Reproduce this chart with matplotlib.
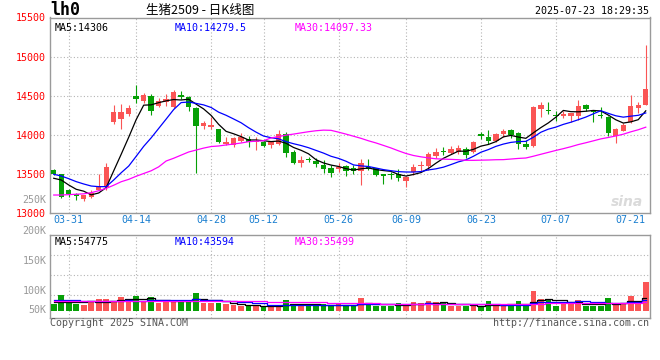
import numpy as np
import pandas as pd
import matplotlib
matplotlib.use('Agg')
import matplotlib.pyplot as plt

# 交易日 (2025-03-27 ~ 2025-07-23)
holidays = ['2025-04-04', '2025-05-01', '2025-05-02', '2025-05-05', '2025-06-02']
days = [d for d in pd.bdate_range('2025-03-27', '2025-07-23') if d.strftime('%Y-%m-%d') not in holidays]

# 日K数据
opens = [13550, 13500, 13290, 13240, 13180, 13210, 13295, 13330, 14170, 14200,
         14270, 14490, 14435, 14495, 14370, 14415, 14360, 14510, 14480, 14345,
         14115, 14105, 14075, 13885, 13870, 13925, 13940, 13910, 13910, 13865,
         13880, 14010, 13775, 13645, 13690, 13670, 13615, 13580, 13560, 13600,
         13580, 13540, 13590, 13570, 13500, 13500, 13495, 13415, 13525, 13595,
         13595, 13735, 13795, 13770, 13775, 13815, 13778, 14005, 13968, 13920,
         14010, 14055, 14020, 13880, 13857, 14330, 14310, 14255, 14240, 14240,
         14245, 14380, 14305, 14250, 14232, 13990, 14053, 14168, 14347, 14381]
highs = [13560, 13505, 13310, 13250, 13235, 13290, 13500, 13645, 14380, 14400,
         14380, 14640, 14530, 14520, 14475, 14520, 14575, 14560, 14490, 14350,
         14180, 14230, 14080, 13970, 13975, 14025, 13985, 13970, 13915, 13910,
         14060, 14040, 13805, 13730, 13720, 13705, 13680, 13615, 13645, 13610,
         13615, 13690, 13690, 13580, 13505, 13530, 13560, 13470, 13625, 13670,
         13775, 13825, 13850, 13855, 13870, 13850, 13915, 14030, 14060, 14020,
         14075, 14075, 14040, 13935, 14370, 14425, 14425, 14305, 14305, 14285,
         14445, 14395, 14310, 14360, 14240, 14085, 14147, 14510, 14425, 15150]
lows = [13480, 13190, 13210, 13160, 13155, 13195, 13290, 13300, 14135, 14075,
        14235, 14410, 14405, 14255, 14360, 14370, 14340, 14455, 14310, 13515,
        14075, 14070, 13900, 13870, 13850, 13910, 13850, 13805, 13850, 13835,
        13870, 13720, 13625, 13585, 13655, 13590, 13510, 13465, 13530, 13475,
        13495, 13360, 13555, 13475, 13370, 13430, 13415, 13335, 13485, 13530,
        13550, 13700, 13740, 13750, 13760, 13705, 13770, 13942, 13882, 13910,
        13975, 13962, 13815, 13815, 13850, 14232, 14266, 14180, 14210, 14168,
        14190, 14308, 14168, 14210, 13990, 13890, 14045, 14147, 14275, 14380]
closes = [13495, 13210, 13240, 13220, 13230, 13260, 13330, 13585, 14290, 14290,
          14345, 14460, 14510, 14310, 14430, 14460, 14545, 14480, 14360, 14115,
          14155, 14130, 13910, 13910, 13960, 13975, 13910, 13915, 13860, 13905,
          14010, 13770, 13645, 13680, 13680, 13630, 13565, 13510, 13590, 13540,
          13540, 13645, 13565, 13485, 13478, 13490, 13445, 13465, 13585, 13600,
          13750, 13785, 13778, 13815, 13828, 13742, 13905, 13985, 13922, 14010,
          14045, 14000, 13880, 13840, 14360, 14380, 14300, 14245, 14272, 14283,
          14370, 14336, 14296, 14240, 14020, 14070, 14126, 14370, 14381, 14586]
# 成交量 (千手)
volumes = [28, 65.8, 37.8, 28, 23.8, 37.8, 49, 49, 37.8, 56,
           44.8, 61.6, 37.8, 56, 33.6, 40.6, 44.8, 37.8, 44.8, 75.6,
           33.6, 33.6, 33.6, 28, 23.8, 21, 21, 21, 21, 16.8,
           21, 44.8, 28, 21, 21, 21, 28, 21, 30.8, 21,
           21, 54.6, 30.8, 21, 21, 21, 30.8, 21, 36.4, 30.8,
           40.6, 36.4, 30.8, 21, 21, 21, 21, 21, 40.6, 21,
           21, 26.6, 40.6, 21, 82.6, 49, 44.8, 21, 30.8, 30.8,
           44.8, 21, 21, 21, 53.2, 30.8, 30.8, 61.6, 30.8, 121.8]

# 图上读出的均线起始段 (窗口外的数据)
ma5_head = [13444, 13422, 13358, 13303]
ma10_head = [13495, 13473, 13439, 13401, 13371, 13345, 13337, 13337, 13422]
ma30_head = [13230, 13230, 13235, 13240, 13245, 13260, 13285, 13315, 13355, 13400,
             13430, 13470, 13505, 13540, 13590, 13665, 13700, 13740, 13780, 13805,
             13830, 13850, 13857, 13870, 13882, 13895, 13912, 13918, 13925]
vma5_head = [38, 38, 37, 37]
vma10_head = [47, 46, 45, 44, 42, 41, 41, 42, 42]
vma30_head = [40, 40, 40, 40, 40, 40, 41, 41, 41, 41, 41, 41, 42, 42, 42,
              42, 42, 42, 42, 42, 41, 41, 41, 40, 40, 40, 39, 39, 39]

tick_dates = ['03-31', '04-14', '04-28', '05-12', '05-26', '06-09', '06-23', '07-07', '07-21']
ma_text = ['MA5:14306', 'MA10:14279.5', 'MA30:14097.33']
vma_text = ['MA5:54775', 'MA10:43594', 'MA30:35499']

RED = '#fa5555'
GREEN = '#06a006'
GRID = '#b4b4b4'
FRAME = '#9a9a9a'
MONO = 'DejaVu Sans Mono'
ma_colors = ['black', '#0000ff', '#ff00ff']

def with_head(values, n, head):
    m = pd.Series(values).rolling(n).mean().values
    m[:len(head)] = head
    return m

W, H = 660, 360
def box(l, t, r, b):
    return [l / W, 1 - b / H, (r - l) / W, (b - t) / H]

fig = plt.figure(figsize=(6.6, 3.6), dpi=100)
ax = fig.add_axes(box(50, 17.5, 649.5, 213))
axv = fig.add_axes(box(50, 234.7, 649.5, 318))

x = np.arange(len(closes))
o, h, l, c = map(np.array, (opens, highs, lows, closes))
colors = np.where(c >= o, RED, GREEN)

# K线
ax.vlines(x, l, h, colors=colors, lw=0.8, zorder=3)
ax.bar(x, np.maximum(np.abs(c - o), 14), bottom=np.minimum(o, c), width=0.72,
       color=colors, linewidth=0, zorder=3)

mas = [with_head(closes, 5, ma5_head), with_head(closes, 10, ma10_head), with_head(closes, 30, ma30_head)]
for m, col in zip(mas, ma_colors):
    ax.plot(x, m, color=col, lw=0.9, zorder=4)

ax.set_xlim(-0.5, len(x) - 0.5)
ax.set_ylim(13000, 15500)

# 日期刻度
day_str = [d.strftime('%m-%d') for d in days]
tick_x = [day_str.index(t) for t in tick_dates]
ax.set_xticks(tick_x)
ax.set_xticklabels(tick_dates)
ax.set_yticks([13000, 13500, 14000, 14500, 15000, 15500])
ax.tick_params(axis='x', length=0, pad=1.5, labelsize=7.2, labelcolor='#1a7fd0')
ax.tick_params(axis='y', length=0, pad=3, labelsize=7.2, labelcolor='#ff0000')
for t in ax.get_xticklabels() + ax.get_yticklabels():
    t.set_family(MONO)
for y in [13500, 14000, 14500, 15000]:
    ax.axhline(y, color=GRID, lw=0.8, ls=(0, (1, 2)), zorder=1)
for tx in tick_x[:-1]:
    ax.axvline(tx, color=GRID, lw=0.8, ls=(0, (1, 2)), zorder=1)
    axv.axvline(tx, color=GRID, lw=0.8, ls=(0, (1, 2)), zorder=1)

ax.text(-0.006, 0.067, '250K', transform=ax.transAxes, ha='right', va='center',
        fontsize=7.2, family=MONO, color='#999999')
ax.text(0.99, 0.02, 'sina', transform=ax.transAxes, ha='right', va='bottom',
        fontsize=10, style='italic', weight='bold', color='#dadada', zorder=0)

for i, (t, col) in enumerate(zip(ma_text, ma_colors)):
    ax.text(0.008 + i * 0.2, 0.97, t, transform=ax.transAxes, ha='left', va='top',
            fontsize=7.2, family=MONO, color=col, zorder=5)

# 成交量
axv.bar(x, volumes, width=0.75, color=colors, linewidth=0, zorder=3)
vmas = [with_head(volumes, 5, vma5_head), with_head(volumes, 10, vma10_head), with_head(volumes, 30, vma30_head)]
for m, col in zip(vmas, ma_colors):
    axv.plot(x, m, color=col, lw=0.9, drawstyle='steps-mid', zorder=4)
axv.set_xlim(-0.5, len(x) - 0.5)
axv.set_ylim(-30.7, 319.2)
axv.set_xticks([])
axv.set_yticks([])
for f in [0.756, 0.516, 0.276]:
    axv.plot([0, 1], [f, f], transform=axv.transAxes, color=GRID, lw=0.8, ls=(0, (1, 2)), zorder=1)
for lab, f in zip(['200K', '150K', '100K', '50K'], [1.044, 0.684, 0.324, 0.096]):
    axv.text(-0.006, f, lab, transform=axv.transAxes, ha='right', va='center',
             fontsize=7.2, family=MONO, color='#999999')
for i, (t, col) in enumerate(zip(vma_text, ma_colors)):
    axv.text(0.008 + i * 0.2, 0.97, t, transform=axv.transAxes, ha='left', va='top',
             fontsize=7.2, family=MONO, color=col, zorder=5)

for a in (ax, axv):
    for s in a.spines.values():
        s.set_color(FRAME)
        s.set_linewidth(1)

# 标题与页脚
fig.text(50 / W, 1 - 10 / H, 'lh0', ha='left', va='center', fontsize=12, weight='bold', family=MONO)
fig.text(200 / W, 1 - 10 / H, '生猪2509 - 日K线图', ha='center', va='center', fontsize=9,
         family=['Noto Sans CJK SC', 'DejaVu Sans'])
fig.text(649 / W, 1 - 11 / H, '2025-07-23 18:29:35', ha='right', va='center', fontsize=7.2, family=MONO)
fig.text(50 / W, 1 - 323 / H, 'Copyright 2025 SINA.COM', ha='left', va='center',
         fontsize=7.2, family=MONO, color='#555555')
fig.text(649 / W, 1 - 323 / H, 'http://finance.sina.com.cn', ha='right', va='center',
         fontsize=7.2, family=MONO, color='#555555')

fig.savefig('out.png', dpi=100)
